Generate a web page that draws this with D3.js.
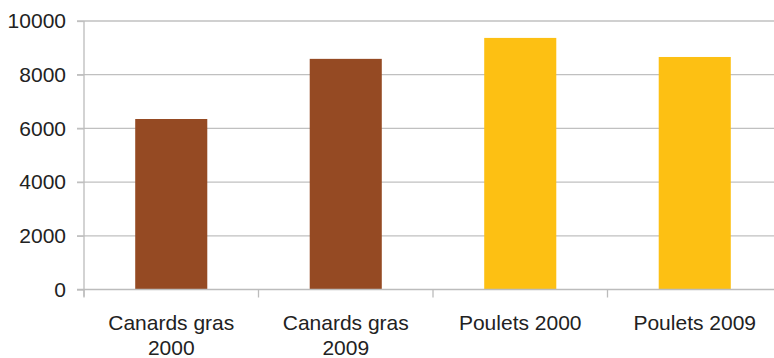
<!DOCTYPE html>
<html>
<head>
<meta charset="utf-8">
<script src="https://cdn.jsdelivr.net/npm/d3@7"></script>
<style>
  body { margin: 0; background: #fff; }
  text { font-family: "Liberation Sans", Arial, sans-serif; fill: #222; }
</style>
</head>
<body>
<svg id="chart" width="774" height="358"></svg>
<script>
// chart data
const categories = [["Canards gras", "2000"], ["Canards gras", "2009"], ["Poulets 2000"], ["Poulets 2009"]];
const values = [6350, 8590, 9370, 8660];
const colors = ["#954A23", "#954A23", "#FDC013", "#FDC013"];
const yTicks = [0, 2000, 4000, 6000, 8000, 10000];

const svg = d3.select("#chart");
const mLeft = 84, mRight = 782, mTop = 21, mBottom = 289.5;

const x = d3.scaleBand().domain(d3.range(categories.length)).range([mLeft, mRight]).paddingInner(0).paddingOuter(0);
const y = d3.scaleLinear().domain([0, 10000]).range([mBottom, mTop]);

// gridlines
svg.append("g")
  .selectAll("line")
  .data(yTicks.slice(1))
  .join("line")
  .attr("x1", mLeft - 7)
  .attr("x2", mRight)
  .attr("y1", (d) => y(d))
  .attr("y2", (d) => y(d))
  .attr("stroke", "#c0c0c0")
  .attr("stroke-width", 1.3);

// bars
const bw = x.bandwidth() * 0.413;
svg.append("g")
  .selectAll("rect")
  .data(values)
  .join("rect")
  .attr("x", (d, i) => x(i) + (x.bandwidth() - bw) / 2)
  .attr("y", (d) => y(d))
  .attr("width", bw)
  .attr("height", (d) => y(0) - y(d))
  .attr("fill", (d, i) => colors[i]);

// y axis
const yAxis = svg.append("g")
  .attr("transform", "translate(" + mLeft + ",0)")
  .call(d3.axisLeft(y).tickValues(yTicks).tickSize(7).tickPadding(11).tickFormat(d3.format("d")));
yAxis.select(".domain").attr("stroke", "#bcbcbc").attr("stroke-width", 1.3).attr("d", "M0," + mTop + "V" + (mBottom + 7));
yAxis.selectAll(".tick line").attr("stroke", "#c0c0c0").attr("stroke-width", 1.3);
yAxis.selectAll(".tick text").attr("font-size", "21px").attr("fill", "#222");

// x axis
const xEdges = d3.range(categories.length + 1).map((i) => mLeft + i * x.bandwidth());
const xAxisG = svg.append("g");
xAxisG.append("line")
  .attr("x1", mLeft - 7).attr("x2", mRight)
  .attr("y1", mBottom).attr("y2", mBottom)
  .attr("stroke", "#bcbcbc").attr("stroke-width", 1.3);
xAxisG.selectAll("line.tk")
  .data(xEdges)
  .join("line")
  .attr("class", "tk")
  .attr("x1", (d) => d).attr("x2", (d) => d)
  .attr("y1", mBottom).attr("y2", mBottom + 8)
  .attr("stroke", "#bcbcbc").attr("stroke-width", 1.3);

const lbl = svg.append("g")
  .selectAll("text")
  .data(categories)
  .join("text")
  .attr("text-anchor", "middle")
  .attr("font-size", "21px")
  .attr("x", (d, i) => x(i) + x.bandwidth() / 2)
  .attr("y", 330);
lbl.selectAll("tspan")
  .data((d) => d)
  .join("tspan")
  .attr("x", function () { return d3.select(this.parentNode).attr("x"); })
  .attr("dy", (d, i) => (i === 0 ? 0 : 25))
  .text((d) => d);
</script>
</body>
</html>
